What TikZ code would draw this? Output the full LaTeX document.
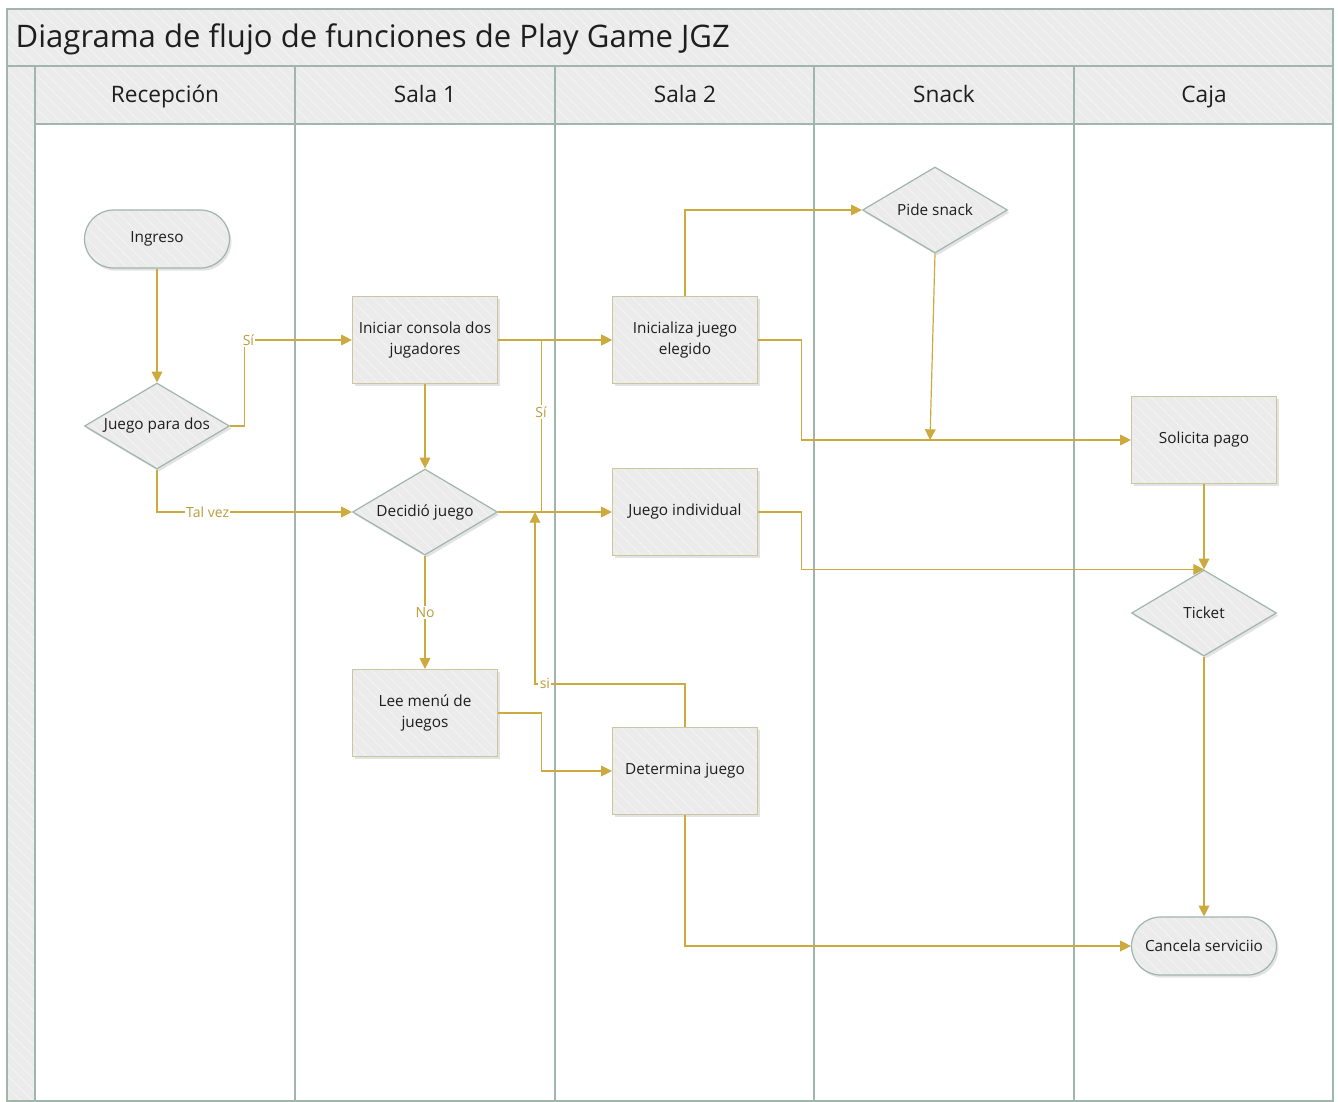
\documentclass[tikz,border=0pt]{standalone}
\usepackage{fontspec}
\setmainfont{Open Sans}
\usetikzlibrary{calc}
\usetikzlibrary{arrows.meta}
\usetikzlibrary{shapes.geometric}
\usetikzlibrary{shadows}
\usetikzlibrary{patterns.meta}
\definecolor{oro}{RGB}{204,170,62}
\definecolor{oroTexto}{RGB}{186,156,60}
\definecolor{carril}{RGB}{160,182,172}
\definecolor{borde}{RGB}{205,197,160}
\definecolor{relleno}{RGB}{235,235,235}
\definecolor{tinta}{RGB}{30,30,30}
\tikzset{
 rayado/.style={preaction={fill=relleno}, preaction={pattern={Lines[angle=-45,distance=6pt,line width=.6pt]}, pattern color=white!45!relleno}},
 sombra/.style={drop shadow={shadow xshift=1.5pt, shadow yshift=-2pt, opacity=.22}},
 texto/.style={text=tinta, font=\fontsize{11.5}{15.5}\selectfont},
 proceso/.style={rectangle, sombra, rayado, draw=borde, line width=.9pt, minimum width=108.75pt, minimum height=65.25pt, align=center, texto},
 decision/.style={diamond, sombra, rayado, draw=carril, line width=.9pt, minimum width=108.75pt, minimum height=64.5pt, inner sep=0pt, aspect=1.7, texto},
 terminal/.style={rectangle, rounded corners=21.75pt, sombra, rayado, draw=carril, line width=.9pt, minimum width=108.75pt, minimum height=43.5pt, texto},
 flecha/.style={oro, line width=.9pt, -{Triangle[length=8pt,width=8pt]}},
 etiqueta/.style={fill=white, text=oroTexto, inner sep=1pt, font=\fontsize{10.5}{12}\selectfont},
}
\begin{document}
\begin{tikzpicture} [x=0.75pt,y=-0.75pt]
\useasboundingbox (0,0) rectangle (1338,1102);
\fill[white] (0,0) rectangle (1338,1102);
\draw[carril, line width=1.2pt, rayado] (7,9) rectangle (1333,66);
\draw[carril, line width=1.2pt, rayado] (7,66) rectangle (35,1101);
\draw[carril, line width=1.2pt, rayado] (35,66) rectangle (1333,124);
\node[anchor=base west, text=tinta, font=\fontsize{23.3}{27}\selectfont] (titulo) at (11,48) {Diagrama de flujo de funciones de Play Game JGZ};
\foreach \xa/\nombre [count=\i] in {35/Recepción, 295/Sala 1, 555/Sala 2, 814/Snack, 1074/Caja} {
 \draw[carril, line width=1.2pt] (\xa,66) -- (\xa,1101);
 \node[anchor=base, text=tinta, font=\fontsize{17}{20}\selectfont] (carril\i) at (\xa+130,103) {\nombre};
}
\draw[carril, line width=1.2pt] (1333,66) -- (1333,1101) -- (7,1101);

\node[terminal] (ingreso) at (157,239) {Ingreso};
\node[decision] (juegodos) at (157,426) {Juego para dos};
\node[proceso] (iniciar) at (425,340) {Iniciar consola dos\\jugadores};
\node[decision] (decidio) at (425,512) {Decidió juego};
\node[proceso] (leemenu) at (425,713) {Lee menú de\\juegos};
\node[proceso] (inicializa) at (685,340) {Inicializa juego\\elegido};
\node[proceso] (individual) at (685,512) {Juego individual};
\node[proceso] (determina) at (685,771) {Determina juego};
\node[decision] (pidesnack) at (935,210) {Pide snack};
\node[proceso] (solicita) at (1204,440) {Solicita pago};
\node[decision] (ticket) at (1204,613) {Ticket};
\node[terminal] (cancela) at (1204,946) {Cancela serviciio};
\coordinate (unionsi) at (535,512);
\coordinate (unionsnack) at (930,440);

\draw[flecha] (ingreso) -- (juegodos);
\draw[flecha] (juegodos.east) -- ++(14,0) |- (iniciar.west) node[etiqueta, pos=.52] {Sí};
\draw[flecha] (juegodos.south) |- (decidio.west) node[etiqueta, pos=.63] {Tal vez};
\draw[flecha] (iniciar) -- (decidio);
\draw[flecha] (iniciar) -- (inicializa);
\draw[flecha] (decidio.east) -- ++(43,0) |- (inicializa.west) node[etiqueta, pos=.29] {Sí};
\draw[flecha] (decidio) -- (individual);
\draw[flecha] (decidio) -- (leemenu) node[etiqueta, midway] {No};
\draw[flecha] (leemenu.east) -- ++(43,0) |- (determina.west);
\draw[flecha] (determina.north) -- ++(0,-43) -| (unionsi) node[etiqueta, pos=.467] {si};
\draw[flecha] (inicializa.north) |- (pidesnack.west);
\draw[flecha] (inicializa.east) -- ++(43,0) |- (solicita.west);
\draw[flecha] (pidesnack.south) -- (unionsnack);
\draw[flecha] (individual.east) -- ++(43,0) |- (ticket.north);
\draw[flecha] (solicita) -- (ticket);
\draw[flecha] (ticket) -- (cancela);
\draw[flecha] (determina.south) |- (cancela.west);
\end{tikzpicture}
\end{document}
